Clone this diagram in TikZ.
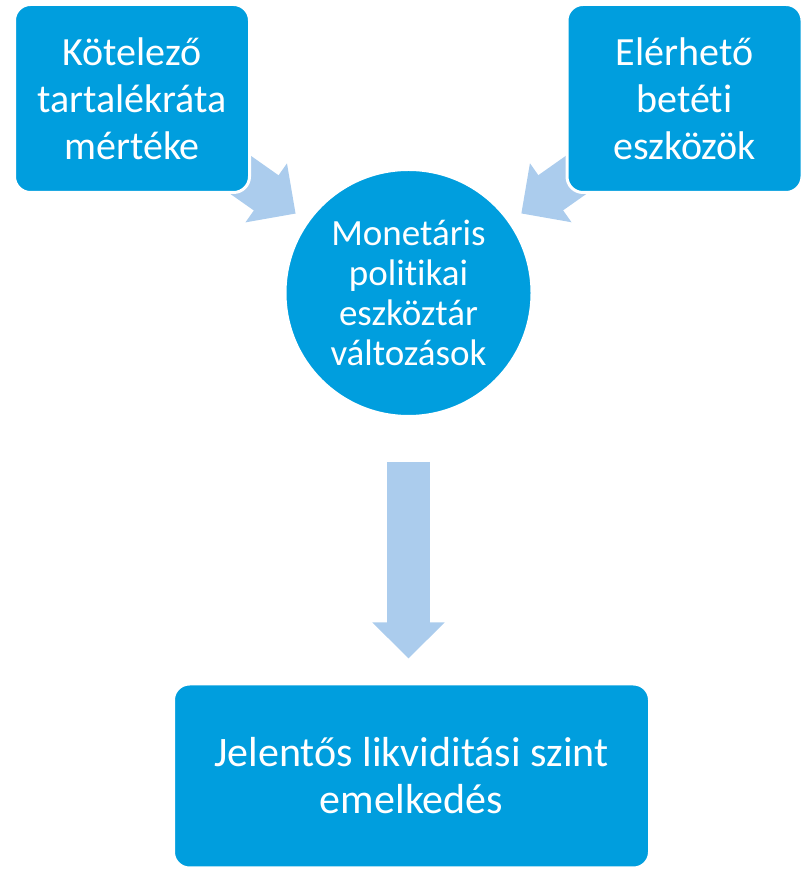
\documentclass[tikz,border=0pt]{standalone}
\usepackage{fontspec}
\setmainfont{Carlito}[Ligatures=NoCommon]
\usepackage{tikz}
\usetikzlibrary{arrows.meta,backgrounds}
\definecolor{boxclr}{rgb}{0.0, 0.62, 0.87}
\definecolor{arrowclr}{rgb}{0.67, 0.80, 0.93}
\tikzset{ %
  ,x=1pt,y=1pt
  ,every node/.style={text=white, align=center}
  ,srcbox/.style={draw=white, line width=3pt, fill=boxclr, rounded corners=16pt, minimum width=235pt, minimum height=188pt, font=\fontsize{40}{47}\selectfont}
  ,hub/.style={draw=white, line width=3pt, fill=boxclr, circle, inner sep=0, minimum size=247pt, font=\fontsize{37}{40}\selectfont}
  ,resbox/.style={draw=white, line width=3pt, fill=boxclr, rounded corners=16pt, minimum width=476pt, minimum height=184pt, font=\fontsize{42}{47}\selectfont}
  ,bigarrow/.style={draw=arrowclr, line width=43pt, -{Triangle[width=70pt, length=36pt]}}
}
\begin{document}
\begin{tikzpicture}
  \useasboundingbox (0,0) rectangle (808,870);
  \node[srcbox] (reserve) at (132,771.5) {Kötelező\\tartalékráta\\mértéke};
  \node[srcbox] (deposit) at (684.5,771.5) {Elérhető\\betéti\\eszközök};
  \node[hub] (toolkit) at (408.5,577) {Monetáris\\politikai\\eszköztár\\változások};
  \node[resbox] (liquid) at (411.5,94) {Jelentős likviditási szint\\emelkedés};
  \begin{scope}[on background layer]
    \draw[bigarrow, shorten <=-40pt, shorten >=13pt] (reserve) -- (toolkit);
    \draw[bigarrow, shorten <=-40pt, shorten >=13pt] (deposit) -- (toolkit);
    \draw[bigarrow, shorten <=44pt, shorten >=24pt] (toolkit.south) -- (toolkit.south |- liquid.north);
  \end{scope}
\end{tikzpicture}
\end{document}
